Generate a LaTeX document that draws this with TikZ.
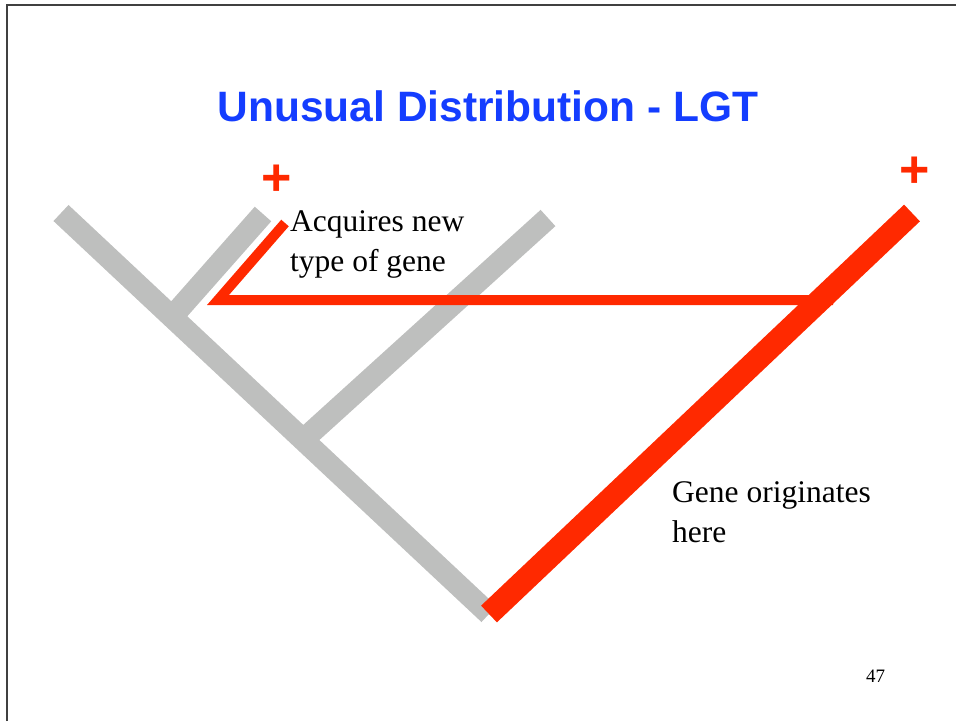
\documentclass[tikz,border=0pt]{standalone}
\usepackage{fontspec}
\setmainfont{Liberation Serif}
\newfontfamily\headfont{Liberation Sans}
\usetikzlibrary{positioning}
\definecolor{lgtred}{rgb}{1.0, 0.16, 0.0}
\definecolor{lgtgray}{rgb}{0.745, 0.75, 0.745}
\definecolor{lgtblue}{rgb}{0.08, 0.24, 1.0}

\tikzset{
  branch/.style={lgtgray, line width=22pt},
  gene/.style={lgtred, line width=23pt},
  transfer/.style={lgtred, line width=10pt, line join=miter},
  note/.style={inner sep=0pt, align=left, font=\fontsize{31.5}{40}\selectfont},
  plus/.style={lgtred, inner sep=0pt, font=\headfont\bfseries\fontsize{52}{52}\selectfont}
}

\begin{document}
\begin{tikzpicture}[x=1pt, y=-1pt]
    \useasboundingbox (0, 0) rectangle (956, 721);
    \draw [black!75, line width=1.2pt] (7, 721) -- (7, 5) -- (956, 5);

    \node [lgtblue, inner sep=0pt, anchor=base, font=\headfont\bfseries\fontsize{42.5}{42.5}\selectfont]
      (title) at (488, 121) {Unusual Distribution - LGT};

    % tree
    \coordinate (root) at (489, 614);
    \coordinate (leafA) at (61, 213);
    \coordinate (leafB) at (263, 214);
    \coordinate (leafC) at (548, 218);
    \coordinate (leafD) at (912, 213);
    \coordinate (forkB) at (172, 317);
    \coordinate (forkC) at (303, 440);

    % transfer
    \coordinate (recipient) at (285, 223);
    \coordinate (bend) at (218, 300);
    \coordinate (donor) at (833, 300);

    \draw [branch] (leafA) -- (root);
    \draw [branch] (leafC) -- (forkC);
    \draw [transfer] (recipient) -- (bend) -- (donor);
    \draw [branch] (leafB) -- (forkB);
    \draw [gene] (root) -- (leafD);

    \node [plus] (plusB) at (277, 180) {+};
    \node [plus] (plusD) at (915, 172) {+};

    \node [note, anchor=north west] (acquires) at (290, 210) {Acquires new\\type of gene};
    \node [note, anchor=north west] (origin) at (672, 481) {Gene originates\\here};

    \node [inner sep=0pt, anchor=base west, font=\fontsize{19}{19}\selectfont] (page) at (866, 682) {47};
\end{tikzpicture}
\end{document}
